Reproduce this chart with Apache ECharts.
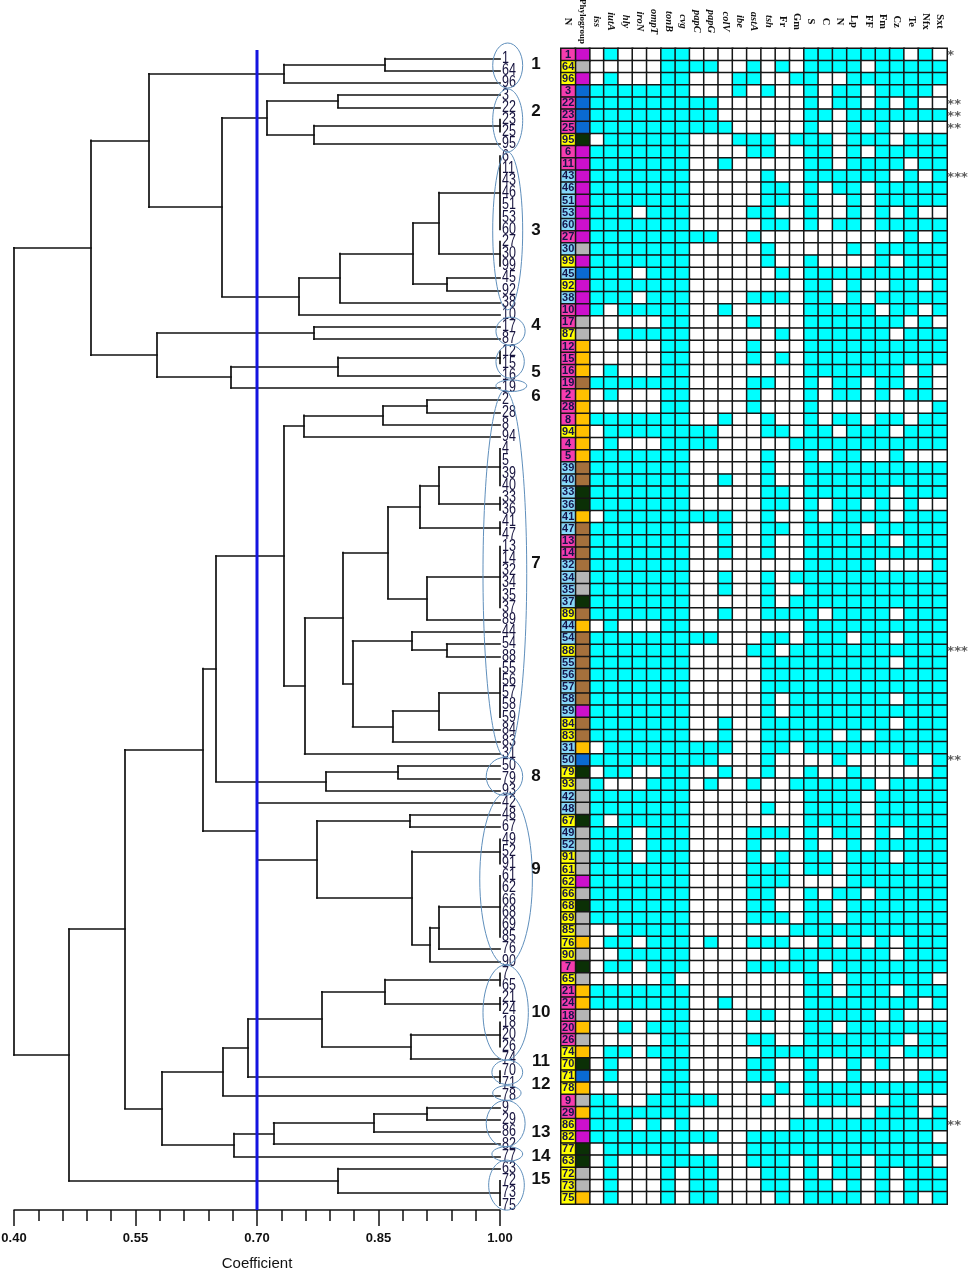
<!DOCTYPE html>
<html><head><meta charset="utf-8">
<style>html,body{margin:0;padding:0;background:#fff}#c{width:973px;height:1272px}</style>
<script src="https://cdn.jsdelivr.net/npm/echarts@6/dist/echarts.min.js"></script>
</head><body><div id="c"></div>
<script>
const headers = ['N','Phylogroup','iss','iutA','hly','iroN','ompT','tonB','cvg','papC','papG','colV','ibe','astA','tsh','Fr','Gm','S','C','N','Lp','FF','Fm','Cz','Te','Nfx','Sxt'];
const italicHeaders = ['iss','iutA','hly','iroN','ompT','tonB','cvg','papC','papG','colV','ibe','astA','tsh'];
const strains = [1,64,96,3,22,23,25,95,6,11,43,46,51,53,60,27,30,99,45,92,38,10,17,87,12,15,16,19,2,28,8,94,4,5,39,40,33,36,41,47,13,14,32,34,35,37,89,44,54,88,55,56,57,58,59,84,83,31,50,79,93,42,48,67,49,52,91,61,62,66,68,69,85,76,90,7,65,21,24,18,20,26,74,70,71,78,9,29,86,82,77,63,72,73,75];
const phylogroups = 'M G M B B B B D M M M M M M M M G M B M M M G G O O O R O O O O O O R R D D O R R R R G G D R O R R R R R R M R R O B D G G G D G G G G M G D G G O G D G O O G O G O D B O G O M M D D G G O'.split(' ');
const traits = [
'01000 11000 00000 11111 11010','00000 11110 01010 11110 11111','01000 11000 11001 10011 11111',
'11111 11000 10100 10110 11110','11111 11110 00000 10110 10100','11111 11110 00000 11011 11111',
'11111 11111 00000 10010 10000','01111 11000 11101 11011 10111','11111 11000 01100 11010 11111',
'11111 11001 00000 11011 11011','11111 11000 00100 11111 10101','11111 11000 00110 10110 11111',
'11111 11000 00110 10010 11111','11101 11000 01100 10010 10100','11111 11000 00110 10110 11111',
'11111 11110 01000 00000 00101','11111 11000 00100 00010 11111','11111 11000 00100 10000 10111',
'11101 11000 00010 11111 11111','11111 11000 00000 11010 01101','11101 11000 01110 11010 11111',
'10111 11001 00000 11111 01101','00000 11000 01000 11111 11010','00111 11000 00010 11111 10111',
'00000 11000 01000 11111 11111','00000 11000 01010 11111 11111','01000 11000 00000 11111 11010',
'11111 11000 01100 10110 11010','01000 11000 01000 10110 10110','00000 11000 01000 10000 00001',
'11111 11001 00100 10110 11011','01111 11110 00110 11011 10111','01000 11110 00001 11111 11111',
'11111 11000 00100 10110 01000','11111 11000 00100 11111 11111','11111 11001 00100 11111 11111',
'11111 11000 00110 11111 10111','11111 11000 00110 10110 10100','01111 11111 00100 10111 10111',
'11111 11001 00110 11110 11111','11111 11001 00100 11111 10111','11111 11001 00100 11111 11111',
'11111 11000 00000 11111 00001','11111 11001 00101 11111 11111','11111 11001 00100 11111 11111',
'11111 11000 00101 11111 11111','11111 11001 00111 10111 10111','01000 11000 00000 11111 11111',
'11111 11110 00110 11101 10111','11111 11000 01101 11111 11111','11111 11000 00111 11111 10111',
'11111 11000 00111 11111 11111','11111 11000 00111 11111 11111','11111 11000 00101 11111 10111',
'11111 11000 00101 11111 11111','11111 11001 00111 11111 10111','11111 11001 00111 11010 11111',
'01111 11111 00110 11111 11111','11111 11110 00100 00100 00101','01100 11001 00100 10010 00001',
'10001 11010 01001 11111 01111','11111 11000 00000 11110 11111','11111 11000 00100 11110 11111',
'10111 11000 00000 11110 11111','11101 11000 01110 10110 10111','11101 11000 01000 10010 11111',
'11101 11000 01010 11011 10111','11111 11000 01110 11011 11111','11111 11000 01110 00011 11111',
'11111 11000 01100 10110 11111','11111 11000 01100 11011 11111','11111 11000 01110 11011 11111',
'00111 11000 00001 11111 11111','01101 11010 01110 01010 10111','00111 11000 00001 11111 10111',
'01101 11000 01111 10111 11111','00000 10000 00000 11011 11110','11111 11000 00000 11011 10111',
'11111 11001 00000 11111 11101','00000 11000 01100 11111 01000','00101 11000 00000 11011 11111',
'00000 11000 01100 11111 11011','01101 11000 00111 11111 10111','01000 11000 01100 10010 10000',
'01000 11000 01100 10010 00011','00000 11000 00010 11111 11111','11001 11110 00100 11110 01100',
'11111 11000 00000 00000 11101','11101 01000 00001 11111 11111','11111 11110 01111 11111 11110',
'01111 11000 01111 11111 11111','01000 11110 01110 10110 11110','01000 10110 00110 10110 10111',
'01000 10110 00110 11010 10111','01000 10110 00010 11110 10101'];
const starred = [[1,'*'],[22,'**'],[23,'**'],[25,'**'],[43,'***'],[88,'***'],[50,'**'],[86,'**']];
// UPGMA tree: [coefficient, child, child, ...]; numbers are strains
const tree = [0.400,
 [0.495,
  [0.5667,
   [0.7333,[0.858,1,64],96],
   [0.6568,
    [0.7123,[0.8,3,22],[0.7704,[1,23,25],95]],
    [0.7519,
     [0.8025,
      [0.8926,
       [0.9247,[1,6,11,43,46,51,53,60],[1,27,30,99]],
       [0.9346,45,92]],
      38],
     10]]],
  [0.5765,
   [0.7704,17,87],
   [0.6679,[0.8,[1,12,15],16],19]]],
 [0.4679,
  [0.537,
   [0.6333,
    [0.6494,
     [0.7333,
      [0.758,[0.8556,[0.9099,2,28],8],94],
      [0.7589,
       [0.8062,
        [0.8617,
         [0.9012,[0.9247,[1,4,5,39,40],[1,33,36]],[1,41,47]],
         [0.9099,[1,13,14,32,34,35,37],89]],
        [0.8181,
         [0.8914,44,[0.9342,54,88]],
         [0.8675,[0.9247,[1,55,56,57,58,59],84],83]]],
       31]],
     [0.7852,[0.8741,50,79],93]],
    [0.70,
     42,
     [0.7741,
      [0.8889,48,67],
      [0.8914,
       [1,49,52,91],
       [0.9136,[0.9247,[1,61,62,66,68,69,85],76],90]]]]],
   [0.5827,
    [0.658,
     [0.6889,
      [0.7802,
       [0.858,[1,7,65],[1,21,24]],
       [0.8897,[1,18,20,26],74]],
      [1,70,71]],
     78],
    [0.6716,
     [0.7206,[0.8444,[0.9099,9,29],86],82],
     77]]],
  [0.80,63,[1,72,73,75]]]];
// clusters: number, ellipse extents in coefficient and row units, and label anchor
const clusterNames = [1,2,3,4,5,6,7,8,9,10,11,12,13,14,15];
const clusterCoef = [[.991,1.028],[.991,1.028],[.991,1.028],[.995,1.031],[.995,1.030],[.995,1.033],[.979,1.033],[.983,1.028],[.975,1.040],[.979,1.035],[.990,1.028],[.991,1.026],[.983,1.031],[.990,1.028],[.986,1.030]];
const clusterRows = [[-1.27,2.42],[2.5,7.66],[7.66,20.6],[21.2,23.5],[23.5,26.2],[26.35,27.3],[27.2,57.25],[57.3,60.4],[60.2,74.3],[74.3,82.1],[82.1,84.1],[84.2,85.4],[85.4,89.2],[89.2,90.4],[90.3,94.4]];
const clusterLabelCoef = [1.0444,1.0444,1.0444,1.0444,1.0444,1.0444,1.0444,1.0444,1.0444,1.0506,1.0506,1.0506,1.0506,1.0506,1.0506];
const clusterLabelRow = [.45,4.3,14.05,21.85,25.7,27.66,41.35,58.8,66.5,78.2,82.2,84.1,88,90,91.9];
const cut = 0.70;

const groupCode = {M:10,G:11,B:12,D:13,O:14,R:15};
const nCode = s => s <= 29 ? 20 : s <= 60 ? 21 : 22;
const pieces = [
 {value:0,color:'#ffffff'},{value:1,color:'#00ffff'},
 {value:10,color:'#cc10cc'},{value:11,color:'#b5b5b5'},{value:12,color:'#0a6ad2'},{value:13,color:'#0b3006'},{value:14,color:'#ffc000'},{value:15,color:'#a5703c'},
 {value:20,color:'#f53cae'},{value:21,color:'#86d8f8'},{value:22,color:'#ffff00'}];
const nCells = strains.map((s,r)=>[0,r,nCode(s),s]);
const gCells = phylogroups.map((g,r)=>[1,r,groupCode[g]]);
const tCells = [];
traits.forEach((row,r)=>row.replace(/ /g,'').split('').forEach((v,c)=>tCells.push([c+2,r,+v])));

// walk the tree in leaf order, gather links
const links = [], leaves = [];
function walk(n){
  if (typeof n === 'number'){ const y = leaves.length; leaves.push([1,y,n]); return {c:1,y}; }
  const kids = n.slice(1).map(walk);
  const ymid = (kids[0].y + kids[kids.length-1].y)/2;
  links.push({coords:[[n[0],kids[0].y],[n[0],kids[kids.length-1].y]]});
  kids.forEach(k=>{ if (k.c !== n[0]) links.push({coords:[[n[0],k.y],[k.c,k.y]]}); });
  return {c:n[0],y:ymid};
}
walk(tree);
const yMin = -0.697, yMax = 94.39;
const sans = '"Liberation Sans",sans-serif';
const serif = '"Liberation Serif",serif';
const cellBorder = {borderColor:'#161616',borderWidth:1.5};

const chart = echarts.init(document.getElementById('c'),null,{renderer:'canvas'});
chart.setOption({
 animation:false, backgroundColor:'#fff',
 grid:[{left:14,width:486,top:50,height:1160,outerBoundsMode:'none'},{left:561,width:386,top:48.5,height:1155.5,outerBoundsMode:'none'}],
 xAxis:[
  {gridIndex:0,type:'value',min:0.4,max:1,interval:0.15,position:'bottom',splitLine:{show:false},
   axisLine:{onZero:false,lineStyle:{color:'#111',width:1.5}},
   axisTick:{length:16,lineStyle:{color:'#111',width:1.5}},
   minorTick:{show:true,splitNumber:5,length:11,lineStyle:{color:'#111',width:1.5}},
   axisLabel:{margin:22,formatter:v=>v.toFixed(2),color:'#111',fontFamily:sans,fontSize:13,fontWeight:'bold',hideOverlap:false,showMinLabel:true,showMaxLabel:true},
   name:'Coefficient',nameLocation:'center',nameGap:46,nameTextStyle:{color:'#111',fontFamily:sans,fontSize:15}},
  {gridIndex:1,type:'category',position:'top',data:headers,
   axisLine:{show:false},axisTick:{show:false},splitLine:{show:false},
   axisLabel:{interval:0,rotate:90,margin:27,align:'center',verticalAlign:'middle',hideOverlap:false,
     formatter:v=>v==='Phylogroup'?'{p|'+v+'}':italicHeaders.includes(v)?'{i|'+v+'}':'{b|'+v+'}',
     rich:{i:{fontFamily:serif,fontStyle:'italic',fontWeight:'bold',fontSize:10.5,color:'#111'},
           b:{fontFamily:serif,fontWeight:'bold',fontSize:10.5,color:'#111'},
           p:{fontFamily:serif,fontWeight:'bold',fontSize:9,color:'#111'}}}}
 ],
 yAxis:[
  {gridIndex:0,type:'value',inverse:true,min:yMin,max:yMax,show:false,splitLine:{show:false}},
  {gridIndex:1,type:'category',inverse:true,data:strains.map(String),show:false}
 ],
 visualMap:{show:false,type:'piecewise',seriesIndex:[0,1,2],dimension:2,pieces},
 series:[
  {type:'heatmap',name:'Resistance and virulence',xAxisIndex:1,yAxisIndex:1,data:tCells,itemStyle:cellBorder,emphasis:{disabled:true}},
  {type:'heatmap',name:'Phylogroup',xAxisIndex:1,yAxisIndex:1,data:gCells,itemStyle:cellBorder,emphasis:{disabled:true}},
  {type:'heatmap',name:'N',xAxisIndex:1,yAxisIndex:1,data:nCells,itemStyle:cellBorder,emphasis:{disabled:true},
   label:{show:true,formatter:p=>p.value[3],color:'#14144a',fontFamily:sans,fontWeight:'bold',fontSize:11}},
  {type:'scatter',name:'Significance',xAxisIndex:1,yAxisIndex:1,symbolSize:1,itemStyle:{color:'transparent'},
   data:starred.map(([s,t])=>[26,strains.indexOf(s),t]),
   label:{show:true,position:'right',distance:7,formatter:p=>p.value[2],color:'#333',fontFamily:'"DejaVu Sans",sans-serif',fontSize:13,fontWeight:'bold',offset:[0,1]}},
  {type:'lines',name:'Dendrogram',coordinateSystem:'cartesian2d',xAxisIndex:0,yAxisIndex:0,polyline:false,data:links,
   lineStyle:{color:'#111',width:1.7,opacity:1,cap:'square'},silent:true},
  {type:'custom',name:'Strains',xAxisIndex:0,yAxisIndex:0,clip:false,silent:true,data:leaves,
   renderItem:(params,api)=>{
     const p=api.coord([api.value(0),api.value(1)]);
     return {type:'text',x:p[0]+2,y:p[1],scaleX:0.78,scaleY:1,
       style:{text:String(api.value(2)),fill:'#17143f',font:'16px "Liberation Sans",sans-serif',textAlign:'left',textVerticalAlign:'middle'}};
   }},
  {type:'line',name:'Cut-off',xAxisIndex:0,yAxisIndex:0,symbol:'none',data:[[cut,yMin],[cut,yMax]],lineStyle:{color:'#1414e0',width:3}},
  {type:'custom',name:'Clusters',xAxisIndex:0,yAxisIndex:0,clip:false,silent:true,
   data:clusterNames.map((n,i)=>[clusterCoef[i][0],clusterRows[i][0],clusterCoef[i][1],clusterRows[i][1],clusterLabelCoef[i],clusterLabelRow[i],n]),
   renderItem:(params,api)=>{
     const a=api.coord([api.value(0),api.value(1)]), b=api.coord([api.value(2),api.value(3)]), t=api.coord([api.value(4),api.value(5)]);
     return {type:'group',children:[
       {type:'ellipse',shape:{cx:(a[0]+b[0])/2,cy:(a[1]+b[1])/2,rx:(b[0]-a[0])/2,ry:(b[1]-a[1])/2},style:{fill:null,stroke:'#5f8fbc',lineWidth:1}},
       {type:'text',x:t[0],y:t[1],style:{text:String(api.value(6)),fill:'#111',font:'bold 17px "Liberation Sans",sans-serif',textAlign:'center',textVerticalAlign:'middle'}}
     ]};
   }}
 ]
});
</script></body></html>
